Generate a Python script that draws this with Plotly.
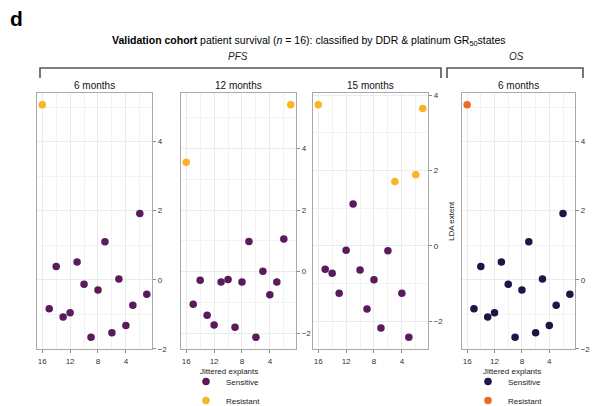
import plotly.graph_objects as go

W, H = 594, 406

# ---------------- data ----------------
explants = [16, 15, 14, 13, 12, 11, 10, 9, 8, 7, 6, 5, 4, 3, 2, 1]

pfs6_lda = [5.07, -0.84, 0.38, -1.08, -0.96, 0.51, -0.13, -1.67, -0.30, 1.10,
            -1.54, 0.02, -1.33, -0.74, 1.92, -0.42]
pfs6_state = ["Resistant"] + ["Sensitive"] * 15

pfs12_lda = [3.56, -1.06, -0.28, -1.42, -1.74, -0.34, -0.26, -1.81, -0.34, 0.98,
             -2.14, 0.01, -0.75, -0.34, 1.06, 5.43]
pfs12_state = ["Resistant"] + ["Sensitive"] * 14 + ["Resistant"]

pfs15_lda = [3.75, -0.62, -0.73, -1.26, -0.12, 1.11, -0.64, -1.68, -0.90, -2.18,
             -0.13, 1.71, -1.26, -2.43, 1.89, 3.65]
pfs15_state = (["Resistant"] + ["Sensitive"] * 10 + ["Resistant"]
               + ["Sensitive"] * 2 + ["Resistant"] * 2)

os6_lda = [5.07, -0.84, 0.38, -1.08, -0.96, 0.51, -0.13, -1.67, -0.30, 1.10,
           -1.54, 0.02, -1.33, -0.74, 1.92, -0.42]
os6_state = ["Resistant"] + ["Sensitive"] * 15

panel_titles = ["6 months", "12 months", "15 months", "6 months"]
x_ticks = [16, 12, 8, 4]

pfs_colors = {"Sensitive": "#5B1A5C", "Resistant": "#F9B524"}
os_colors = {"Sensitive": "#1C1545", "Resistant": "#EE6A22"}

# ---------------- layout helpers ----------------
panels_px = [(37, 152), (181, 296), (313, 428), (462, 575)]
y_top_px, y_bot_px = 93, 349

def px_x(p):
    return p / W

def px_y(p):
    return 1 - p / H

panels = [
    (pfs6_lda, pfs6_state, pfs_colors, "legend"),
    (pfs12_lda, pfs12_state, pfs_colors, "legend"),
    (pfs15_lda, pfs15_state, pfs_colors, "legend"),
    (os6_lda, os6_state, os_colors, "legend2"),
]

FONT = "Liberation Sans, Arial, Helvetica, sans-serif"
fig = go.Figure()

for i, (vals, states, cols, leg) in enumerate(panels):
    n = i + 1
    xa = "x" if n == 1 else f"x{n}"
    ya = "y" if n == 1 else f"y{n}"
    for st in ["Sensitive", "Resistant"]:
        xs = [x for x, s in zip(explants, states) if s == st]
        ys = [v for v, s in zip(vals, states) if s == st]
        fig.add_trace(go.Scatter(
            x=xs, y=ys, mode="markers", name=st,
            marker=dict(color=cols[st], size=7.5, line=dict(width=0)),
            xaxis=xa, yaxis=ya, legend=leg,
            showlegend=(n in (1, 4)), hoverinfo="skip",
        ))
    lo, hi = min(vals), max(vals)
    pad = 0.05 * (hi - lo)
    xpad = 0.05 * (max(explants) - min(explants))
    axis_common = dict(
        showline=True, mirror=True, linecolor="#A9A9A9", linewidth=1.2,
        ticks="outside", ticklen=3, tickcolor="#8A8A8A", tickwidth=1,
        tickfont=dict(size=8, color="#333333", family=FONT),
        gridcolor="#EBEBEB", gridwidth=0.8, zeroline=False,
    )
    x0, x1 = panels_px[i]
    fig.layout[f"xaxis{'' if n == 1 else n}"] = dict(
        axis_common,
        domain=[px_x(x0), px_x(x1)],
        range=[max(explants) + xpad, min(explants) - xpad],
        tickmode="array", tickvals=x_ticks, ticktext=[str(t) for t in x_ticks],
        minor=dict(dtick=2, tick0=0, showgrid=True, gridcolor="#F3F3F3", ticks=""),
        ticklabelstandoff=1,
        anchor=ya,
    )
    fig.layout[f"yaxis{'' if n == 1 else n}"] = dict(
        axis_common,
        domain=[px_y(y_bot_px), px_y(y_top_px)],
        range=[lo - pad, hi + pad],
        dtick=2, tick0=0, side="right",
        minor=dict(dtick=1, tick0=0, showgrid=True, gridcolor="#F3F3F3", ticks=""),
        anchor=xa,
    )

annotations = []
for (x0, x1), t in zip(panels_px, panel_titles):
    annotations.append(dict(text=t, x=px_x((x0 + x1) / 2), y=px_y(85),
                            xanchor="center", yanchor="middle",
                            font=dict(size=10, color="#111111", family=FONT)))
annotations += [
    dict(text="<b>d</b>", x=px_x(8), y=px_y(18), xanchor="left", yanchor="middle",
         font=dict(size=21, color="#000000", family=FONT)),
    dict(text="<b>Validation cohort</b> patient survival (<i>n</i> = 16): classified by DDR &amp; platinum GR<sub>50</sub>states",
         x=px_x(110), y=px_y(41), xanchor="left", yanchor="middle",
         font=dict(size=10.5, color="#000000", family=FONT)),
    dict(text="<i>PFS</i>", x=px_x(238), y=px_y(56), xanchor="center", yanchor="middle",
         font=dict(size=10, color="#222222", family=FONT)),
    dict(text="<i>OS</i>", x=px_x(516), y=px_y(56), xanchor="center", yanchor="middle",
         font=dict(size=10, color="#222222", family=FONT)),
    dict(text="LDA extent", x=px_x(452), y=px_y(221), xanchor="center", yanchor="middle",
         textangle=-90, font=dict(size=8, color="#222222", family=FONT)),
    dict(text="Jittered explants", x=px_x(229), y=px_y(371), xanchor="center", yanchor="middle",
         font=dict(size=8, color="#222222", family=FONT)),
    dict(text="Jittered explants", x=px_x(512), y=px_y(371), xanchor="center", yanchor="middle",
         font=dict(size=8, color="#222222", family=FONT)),
]
for a in annotations:
    a.setdefault("xref", "paper")
    a.setdefault("yref", "paper")
    a.setdefault("showarrow", False)

def bracket(xl, xr, ytop, ybot):
    return dict(type="path", xref="paper", yref="paper",
                path=(f"M {px_x(xl)},{px_y(ybot)} L {px_x(xl)},{px_y(ytop)} "
                      f"L {px_x(xr)},{px_y(ytop)} L {px_x(xr)},{px_y(ybot)}"),
                line=dict(color="#555555", width=1.6))

shapes = [bracket(40, 441, 68, 78), bracket(447, 583, 68, 78)]

legend_common = dict(
    yanchor="top", xanchor="left",
    font=dict(size=8, color="#222222", family=FONT),
    bgcolor="rgba(0,0,0,0)", borderwidth=0, tracegroupgap=0,
    itemsizing="trace", traceorder="normal",
)

fig.update_layout(
    width=W, height=H,
    margin=dict(l=0, r=0, t=0, b=0, autoexpand=False),
    paper_bgcolor="white", plot_bgcolor="white",
    font=dict(family=FONT),
    annotations=annotations, shapes=shapes,
    legend=dict(legend_common, x=px_x(186), y=px_y(367)),
    legend2=dict(legend_common, x=px_x(468), y=px_y(367)),
)

fig.write_html(
    "out.html",
    config={"displayModeBar": False},
    post_script="document.body.style.margin='0';document.body.style.overflow='hidden';",
)
